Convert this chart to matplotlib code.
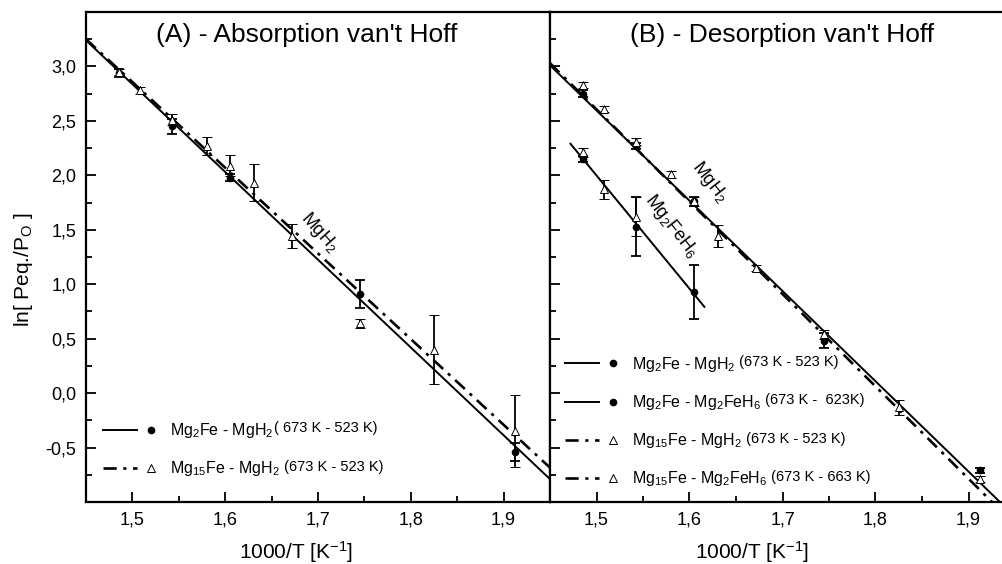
import numpy as np
import matplotlib
matplotlib.use("Agg")
import matplotlib.pyplot as plt
from matplotlib.lines import Line2D
from matplotlib.legend_handler import HandlerBase
from matplotlib.ticker import MultipleLocator, FuncFormatter

plt.rcParams['font.family'] = ['Liberation Sans', 'DejaVu Sans']
plt.rcParams['mathtext.fontset'] = 'custom'
plt.rcParams['mathtext.rm'] = 'Liberation Sans'
plt.rcParams['mathtext.it'] = 'Liberation Sans:italic'
plt.rcParams['mathtext.bf'] = 'Liberation Sans:bold'

# (A) absorption, MgH2 plateau
a_fe2_x = [1.486, 1.543, 1.605, 1.745, 1.912]
a_fe2_y = [2.94, 2.45, 1.98, 0.91, -0.54]
a_fe2_err = [0.04, 0.07, 0.03, 0.13, 0.08]
a_fe15_x = [1.486, 1.508, 1.543, 1.580, 1.605, 1.631, 1.672, 1.745, 1.825, 1.912]
a_fe15_y = [2.95, 2.78, 2.51, 2.27, 2.09, 1.93, 1.44, 0.64, 0.40, -0.35]
a_fe15_err = [0.03, 0.03, 0.05, 0.08, 0.10, 0.17, 0.11, 0.04, 0.32, 0.33]

# (B) desorption, MgH2 plateau
b_fe2_x = [1.486, 1.543, 1.605, 1.745, 1.912]
b_fe2_y = [2.75, 2.27, 1.76, 0.48, -0.71]
b_fe2_err = [0.03, 0.03, 0.04, 0.07, 0.02]
b_fe15_x = [1.486, 1.508, 1.543, 1.580, 1.605, 1.631, 1.672, 1.745, 1.825, 1.912]
b_fe15_y = [2.83, 2.61, 2.31, 2.01, 1.76, 1.44, 1.15, 0.54, -0.13, -0.79]
b_fe15_err = [0.03, 0.03, 0.03, 0.03, 0.04, 0.10, 0.03, 0.04, 0.07, 0.03]

# (B) desorption, Mg2FeH6 plateau
c_fe2_x = [1.486, 1.543, 1.605]
c_fe2_y = [2.15, 1.53, 0.93]
c_fe2_err = [0.03, 0.27, 0.25]
c_fe15_x = [1.486, 1.508, 1.543]
c_fe15_y = [2.21, 1.87, 1.62]
c_fe15_err = [0.04, 0.09, 0.18]

# van't Hoff fits: ln(P) = intercept + slope * 1000/T
fitA_slope = [-8.06, -7.87]
fitA_icpt = [14.927, 14.662]
fitB_slope = [-8.29, -8.48, -10.4]
fitB_icpt = [15.031, 15.326, 17.599]
fitB_xrange = [(1.45, 1.95), (1.45, 1.95), (1.472, 1.616)]

legA_main = ["Mg$_2$Fe - MgH$_2$", "Mg$_{15}$Fe - MgH$_2$"]
legA_range = ["( 673 K - 523 K)", " (673 K - 523 K)"]
legB_main = ["Mg$_2$Fe - MgH$_2$", "Mg$_2$Fe - Mg$_2$FeH$_6$",
             "Mg$_{15}$Fe - MgH$_2$", "Mg$_{15}$Fe - Mg$_2$FeH$_6$"]
legB_range = [" (673 K - 523 K)", " (673 K -  623K)",
              " (673 K - 523 K)", " (673 K - 663 K)"]

DASHDOT = (0, (5, 2.5, 1.2, 2.5))
solid_kw = dict(color='black', lw=1.4, ls='-')
dd_kw = dict(color='black', lw=1.9, ls=DASHDOT)
dot_kw = dict(fmt='o', ms=4.5, mfc='black', mec='black', ecolor='black',
              elinewidth=1.3, capsize=3.5, capthick=1.3, zorder=3)
tri_kw = dict(fmt='^', ms=5.5, mfc='white', mec='black', mew=0.7, ecolor='black',
              elinewidth=1.3, capsize=3.5, capthick=1.3, zorder=4)


class LineThenMarker(HandlerBase):
    # Origin style legend entry: line sample, then the symbol to its right
    def create_artists(self, legend, orig_handle, xdescent, ydescent,
                       width, height, fontsize, trans):
        y = height / 2 - ydescent
        ln = Line2D([-xdescent, -xdescent + 0.63 * width], [y, y])
        ln.update_from(orig_handle)
        ln.set_marker('None')
        mk = Line2D([-xdescent + 0.88 * width], [y])
        mk.update_from(orig_handle)
        mk.set_linestyle('None')
        for a in (ln, mk):
            a.set_transform(trans)
        return [ln, mk]


def comma(v, pos):
    if v < -0.75 or v > 3.25:
        return ""
    return ("%.1f" % v).replace('.', ',')


def style_axes(ax, labels_y=True):
    ax.set_xlim(1.45, 1.95)
    ax.set_ylim(-1.0, 3.5)
    ax.xaxis.set_major_locator(MultipleLocator(0.1))
    ax.xaxis.set_minor_locator(MultipleLocator(0.05))
    ax.yaxis.set_major_locator(MultipleLocator(0.5))
    ax.yaxis.set_minor_locator(MultipleLocator(0.25))
    ax.xaxis.set_major_formatter(FuncFormatter(comma))
    ax.yaxis.set_major_formatter(FuncFormatter(comma))
    ax.tick_params(which='both', direction='in', top=False, right=False,
                   width=1.3, labelsize=13)
    ax.tick_params(which='major', length=7, pad=7)
    ax.tick_params(which='minor', length=4)
    ax.tick_params(axis='y', labelleft=labels_y)
    for s in ax.spines.values():
        s.set_linewidth(1.6)
    ax.set_xlabel("1000/T [K$^{\\mathregular{-1}}$]", fontsize=15)


def add_legend(ax, handles, mains, ranges, x0, y0):
    leg = ax.legend(handles, mains, loc='upper left', bbox_to_anchor=(x0, y0),
                    frameon=False, fontsize=11.5, handlelength=3.4,
                    handletextpad=0.8, labelspacing=1.2, borderpad=0,
                    borderaxespad=0, handler_map={Line2D: LineThenMarker()})
    for txt, r in zip(leg.get_texts(), ranges):
        ax.annotate(r, xy=(1, 0.62), xycoords=txt, va='center', ha='left',
                    fontsize=10.5, zorder=10)
    return leg


fig = plt.figure(figsize=(10.03, 5.64), dpi=100)
axA = fig.add_axes([86 / 1003, 62 / 564, 464 / 1003, 490 / 564])
axB = fig.add_axes([550 / 1003, 62 / 564, 465 / 1003, 490 / 564], sharey=axA)

# ---- panel A
for slope, icpt, kw in zip(fitA_slope, fitA_icpt, [solid_kw, dd_kw]):
    xs = np.array([1.45, 1.95])
    axA.plot(xs, icpt + slope * xs, **kw)
axA.errorbar(a_fe2_x, a_fe2_y, yerr=a_fe2_err, **dot_kw)
axA.errorbar(a_fe15_x, a_fe15_y, yerr=a_fe15_err, **tri_kw)
style_axes(axA)
axA.set_ylabel("ln[ Peq./P$_{\\mathregular{O}}$ ]", fontsize=15)
axA.yaxis.set_label_coords(-0.11, 0.475)
axA.xaxis.set_label_coords(0.452, -0.076)
axA.text(0.476, 0.953, "(A) - Absorption van't Hoff", transform=axA.transAxes,
         ha='center', va='center', fontsize=19)
axA.text(1.701, 1.48, "MgH$_2$", rotation=-48, ha='center', va='center',
         fontsize=13, rotation_mode='anchor')

hA = [Line2D([], [], marker='o', ms=4.5, mfc='black', mec='black', **solid_kw),
      Line2D([], [], marker='^', ms=5.5, mfc='white', mec='black', mew=0.7, **dd_kw)]
add_legend(axA, hA, legA_main, legA_range, 0.037, 0.165)

# ---- panel B
kinds = [solid_kw, dd_kw, solid_kw]
for slope, icpt, (x0, x1), kw in zip(fitB_slope, fitB_icpt, fitB_xrange, kinds):
    xs = np.array([x0, x1])
    axB.plot(xs, icpt + slope * xs, **kw)
axB.errorbar(b_fe2_x, b_fe2_y, yerr=b_fe2_err, **dot_kw)
axB.errorbar(b_fe15_x, b_fe15_y, yerr=b_fe15_err, **tri_kw)
axB.errorbar(c_fe2_x, c_fe2_y, yerr=c_fe2_err, **dot_kw)
axB.errorbar(c_fe15_x, c_fe15_y, yerr=c_fe15_err, **tri_kw)
style_axes(axB, labels_y=False)
axB.xaxis.set_label_coords(0.434, -0.076)
axB.text(0.50, 0.953, "(B) - Desorption van't Hoff", transform=axB.transAxes,
         ha='center', va='center', fontsize=19)
axB.text(1.622, 1.94, "MgH$_2$", rotation=-52, ha='center', va='center',
         fontsize=13, rotation_mode='anchor')
axB.text(1.581, 1.53, "Mg$_2$FeH$_6$", rotation=-52, ha='center', va='center',
         fontsize=13, rotation_mode='anchor')

hB = [Line2D([], [], marker='o', ms=4.5, mfc='black', mec='black', **solid_kw),
      Line2D([], [], marker='o', ms=4.5, mfc='black', mec='black', **solid_kw),
      Line2D([], [], marker='^', ms=5.5, mfc='white', mec='black', mew=0.7, **dd_kw),
      Line2D([], [], marker='^', ms=5.5, mfc='white', mec='black', mew=0.7, **dd_kw)]
add_legend(axB, hB, legB_main, legB_range, 0.032, 0.30)

fig.savefig("out.png", dpi=100)
